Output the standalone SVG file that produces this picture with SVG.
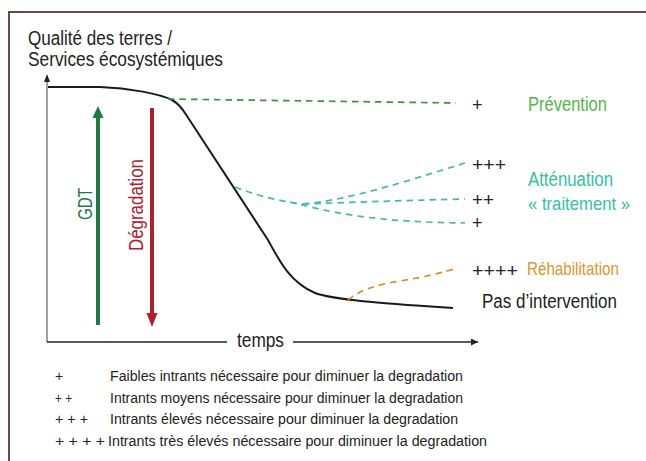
<svg xmlns="http://www.w3.org/2000/svg" width="646" height="461" viewBox="0 0 646 461">
<defs>
<style>
text{font-family:"Liberation Sans",Arial,sans-serif;}
.lbl{font-size:19.5px;fill:#222;}
.sm{font-size:18.5px;}
.leg{font-size:14px;fill:#222;}
.plus{font-size:18px;fill:#222;}
.curve{fill:none;stroke:#1a1a1a;stroke-width:2;}
.dash{fill:none;stroke-width:1.7;stroke-dasharray:6.5 5;}
.g{stroke:#3f8f3f;}
.t{stroke:#45b8b0;}
.o{stroke:#d98c2b;}
</style>
<marker id="ah" viewBox="0 0 10 10" refX="10" refY="5" markerWidth="8" markerHeight="7" markerUnits="userSpaceOnUse" orient="auto"><path d="M0,0L10,5L0,10z" fill="#222"/></marker>
</defs>
<rect width="646" height="461" fill="#fff"/>
<g id="frame" fill="none" stroke="#6a4a44" stroke-width="2">
<path d="M9,461V12H646"/>
</g>
<g id="title">
<text class="lbl" x="28" y="44.5" textLength="144" lengthAdjust="spacingAndGlyphs">Qualité des terres /</text>
<text class="lbl" x="28" y="66" textLength="195" lengthAdjust="spacingAndGlyphs">Services écosystémiques</text>
</g>
<g id="axes">
<line x1="47" y1="342" x2="47" y2="76" stroke="#808080" stroke-width="1.5"/>
<path d="M47,74L44,82H50z" fill="#222"/>
<line x1="47" y1="342" x2="227" y2="342" stroke="#222" stroke-width="1.3"/>
<line x1="293" y1="342" x2="478" y2="342" stroke="#222" stroke-width="1.3" marker-end="url(#ah)"/>
<text class="lbl" x="237" y="347" textLength="47" lengthAdjust="spacingAndGlyphs">temps</text>
</g>
<g id="gdt">
<line x1="98" y1="325" x2="98" y2="115" stroke="#1d7a45" stroke-width="4"/>
<path d="M98,106L92.5,118H103.5z" fill="#1d7a45"/>
<text class="lbl" transform="translate(92,204) rotate(-90)" text-anchor="middle" style="fill:#1d7a45" textLength="32" lengthAdjust="spacingAndGlyphs">GDT</text>
</g>
<g id="degradation">
<line x1="152" y1="108" x2="152" y2="316" stroke="#b0202e" stroke-width="4"/>
<path d="M152,327L146.5,313H157.5z" fill="#b0202e"/>
<text class="lbl" transform="translate(143,205) rotate(-90)" text-anchor="middle" style="fill:#b0202e" textLength="92" lengthAdjust="spacingAndGlyphs">Dégradation</text>
</g>
<g id="connectors">
<path class="curve" d="M48,87L100,87C130,88 160,94 172,100C178,103 181,107 185,113L268,240C280,262 290,282 315,293C335,300 380,303 453,308"/>
<path class="dash g" d="M168,99L456,103"/>
<path class="dash t" d="M235,187C260,197 285,202 303,204"/>
<path class="dash t" d="M303,204C350,200 410,180 465,163"/>
<path class="dash t" d="M303,204C360,202 420,200 465,199"/>
<path class="dash t" d="M290,202C330,212 370,222 465,223"/>
<path class="dash o" d="M348,300C360,290 375,285 400,281C425,277 445,272 457,268"/>
</g>
<g id="prevention">
<text class="plus" x="472" y="111">+</text>
<text class="lbl" x="528" y="111" style="fill:#52b548" textLength="79" lengthAdjust="spacingAndGlyphs">Prévention</text>
</g>
<g id="attenuation">
<text class="plus" x="472" y="171" textLength="34" lengthAdjust="spacingAndGlyphs">+++</text>
<text class="plus" x="472" y="206" textLength="22" lengthAdjust="spacingAndGlyphs">++</text>
<text class="plus" x="472" y="229">+</text>
<text class="lbl" x="528" y="186" style="fill:#35bf9f" textLength="85" lengthAdjust="spacingAndGlyphs">Atténuation</text>
<text class="lbl sm" x="528" y="210" style="fill:#35bf9f" textLength="102" lengthAdjust="spacingAndGlyphs">« traitement »</text>
</g>
<g id="rehabilitation">
<text class="plus" x="472" y="277" textLength="46" lengthAdjust="spacingAndGlyphs">++++</text>
<text class="lbl sm" x="527" y="275" style="fill:#e0952f" textLength="92" lengthAdjust="spacingAndGlyphs">Réhabilitation</text>
</g>
<g id="no-intervention">
<text class="lbl" x="482" y="308" textLength="135" lengthAdjust="spacingAndGlyphs">Pas d’intervention</text>
</g>
<g id="legend">
<text class="leg" x="55" y="381">+</text>
<text class="leg" x="110" y="381" textLength="353" lengthAdjust="spacingAndGlyphs">Faibles intrants nécessaire pour diminuer la degradation</text>
<text class="leg" x="55" y="403" textLength="17" lengthAdjust="spacingAndGlyphs">+ +</text>
<text class="leg" x="110" y="403" textLength="353" lengthAdjust="spacingAndGlyphs">Intrants moyens nécessaire pour diminuer la degradation</text>
<text class="leg" x="55" y="424" textLength="33" lengthAdjust="spacingAndGlyphs">+ + +</text>
<text class="leg" x="110" y="424" textLength="348" lengthAdjust="spacingAndGlyphs">Intrants élevés nécessaire pour diminuer la degradation</text>
<text class="leg" x="55" y="446" textLength="50" lengthAdjust="spacingAndGlyphs">+ + + +</text>
<text class="leg" x="108" y="446" textLength="379" lengthAdjust="spacingAndGlyphs">Intrants très élevés nécessaire pour diminuer la degradation</text>
</g>
</svg>
